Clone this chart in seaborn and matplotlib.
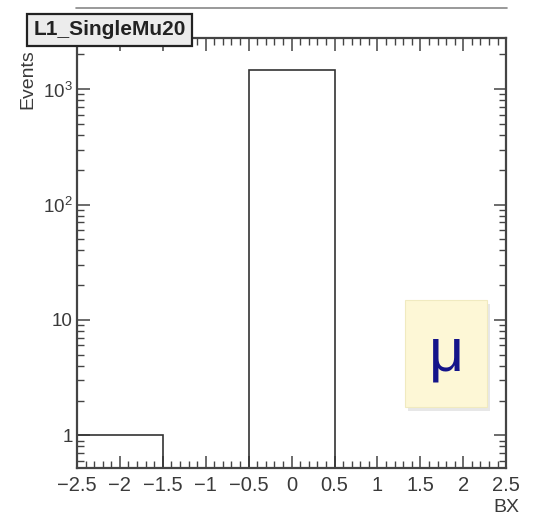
import numpy as np
import matplotlib
matplotlib.use("Agg")
import matplotlib.pyplot as plt
import seaborn as sns
from matplotlib.patches import Rectangle
from matplotlib.lines import Line2D
from matplotlib.ticker import MultipleLocator, LogLocator, FixedLocator

# histogram data
bin_edges = [-2.5, -1.5, -0.5, 0.5, 1.5, 2.5]
bin_centers = [-2.0, -1.0, 0.0, 1.0, 2.0]
counts = [1, 0, 1460, 0, 0]
y_ticks = [1, 10, 100, 1000]
y_ticklabels = ["1", "10", "$10^2$", "$10^3$"]
x_ticks = [-2.5, -2, -1.5, -1, -0.5, 0, 0.5, 1, 1.5, 2, 2.5]
x_ticklabels = ["\u22122.5", "\u22122", "\u22121.5", "\u22121", "\u22120.5", "0", "0.5", "1", "1.5", "2", "2.5"]

sns.set_style("ticks")
plt.rcParams["font.family"] = ["Liberation Sans", "DejaVu Sans"]
plt.rcParams["mathtext.fontset"] = "custom"
plt.rcParams["mathtext.rm"] = "Liberation Sans"

fig = plt.figure(figsize=(5.42, 5.16), dpi=100)
ax = fig.add_axes([0.142, 0.093, 0.792, 0.833])

sns.histplot(x=bin_centers, weights=counts, bins=bin_edges, element="bars",
             fill=False, color="#333333", linewidth=1.2, ax=ax)

ax.set_yscale("log")
ax.set_xlim(-2.5, 2.5)
ax.set_ylim(0.52, 2770)

ax.xaxis.set_major_locator(FixedLocator(x_ticks))
ax.set_xticklabels(x_ticklabels)
ax.xaxis.set_minor_locator(MultipleLocator(0.1))
ax.yaxis.set_major_locator(FixedLocator(y_ticks))
ax.set_yticklabels(y_ticklabels)
ax.yaxis.set_minor_locator(LogLocator(base=10, subs=np.arange(2, 10), numticks=20))
ax.yaxis.set_minor_formatter(plt.NullFormatter())

ax.tick_params(which="both", direction="in", top=True, right=True,
               colors="#444444", labelcolor="#3a3a3a")
ax.tick_params(axis="x", labelsize=14.5, pad=6)
ax.tick_params(axis="y", labelsize=13.5, pad=3)
ax.tick_params(which="major", length=9, width=1.1)
ax.tick_params(which="minor", length=5, width=1.0)
for s in ax.spines.values():
    s.set_linewidth(1.6)
    s.set_color("#444444")

ax.set_xlabel("")
ax.set_ylabel("")
fig.text(0.958, 0.0, "BX", ha="right", va="bottom", fontsize=14, color="#3a3a3a")
fig.text(0.036, 0.905, "Events", rotation=90, ha="left", va="top",
         fontsize=14, color="#3a3a3a", zorder=1)

# title box
fig.text(0.062, 0.942, "L1_SingleMu20", fontsize=15, fontweight="bold",
         color="#222222", ha="left", va="center", zorder=10,
         bbox=dict(boxstyle="square,pad=0.3", facecolor="#ececec",
                   edgecolor="#222222", linewidth=1.6))

# top pad border line
fig.add_artist(Line2D([0.14, 0.935], [0.984, 0.984], color="#888888", linewidth=1.2))

# muon label box with shadow
ax.add_patch(Rectangle((0.772, 0.132), 0.19, 0.25, transform=ax.transAxes,
                       facecolor="#d0d0d0", edgecolor="none", alpha=0.5, zorder=4))
ax.add_patch(Rectangle((0.765, 0.142), 0.19, 0.25, transform=ax.transAxes,
                       facecolor="#fdf7d6", edgecolor="#f0eac0", linewidth=0.8, zorder=5))
ax.text(0.86, 0.262, "\u03bc", transform=ax.transAxes, ha="center", va="center",
        fontsize=44, color="#14148a", zorder=6)

fig.savefig("out.png", dpi=100)
